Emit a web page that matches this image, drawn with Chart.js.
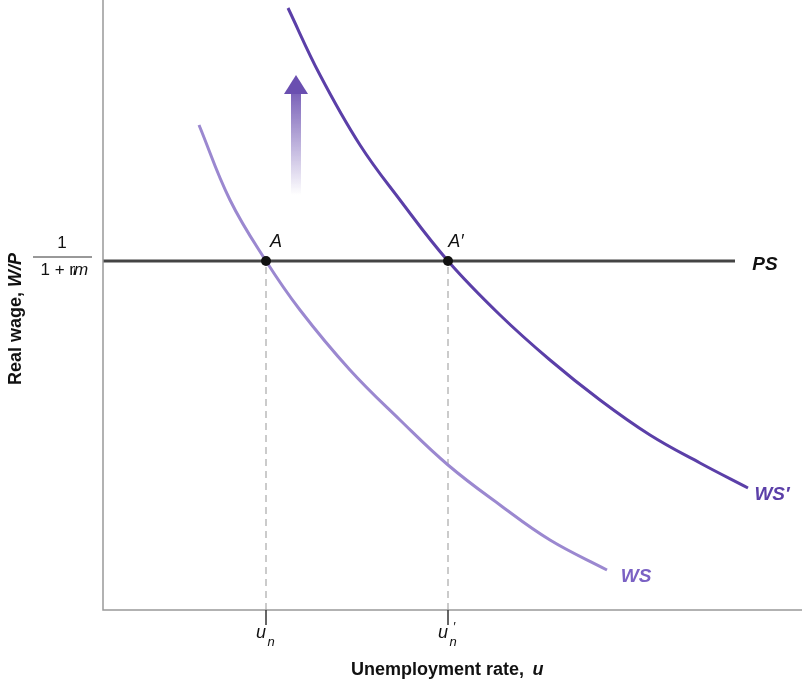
<!DOCTYPE html>
<html><head><meta charset="utf-8">
<script src="https://cdn.jsdelivr.net/npm/chart.js@4"></script>
<style>body{margin:0;background:#fff}#wrap{width:802px;height:687px}</style>
</head><body><div id="wrap"><canvas id="c"></canvas></div>
<script>
// unemployment (x) and real wage (y), in chart units
var wsX = [96, 127, 163, 197, 247, 297, 345, 397, 447, 504];
var wsY = [485, 410, 349, 300, 240, 190, 145, 105, 70, 40];
var ws2X = [185, 217, 257, 297, 345, 397, 447, 497, 547, 597, 645];
var ws2Y = [602, 535, 465, 410, 349, 295, 250, 210, 175, 147, 122];
var psLevel = 349;
var psEnd = 632;
var unX = 163, un2X = 345;

function pts(xs, ys) { return xs.map(function (x, i) { return {x: x, y: ys[i]}; }); }

var extras = {
  id: 'extras',
  afterDatasetsDraw: function (chart) {
    var c = chart.ctx, xs = chart.scales.x, ys = chart.scales.y;
    var a = chart.chartArea;
    c.save();
    // axes
    c.strokeStyle = '#999'; c.lineWidth = 1.5;
    c.beginPath(); c.moveTo(a.left, 0); c.lineTo(a.left, a.bottom); c.lineTo(802, a.bottom); c.stroke();
    // ticks
    c.strokeStyle = '#333'; c.lineWidth = 1.5;
    [unX, un2X].forEach(function (v) {
      var px = xs.getPixelForValue(v);
      c.beginPath(); c.moveTo(px, a.bottom); c.lineTo(px, a.bottom + 15); c.stroke();
    });
    // points
    c.fillStyle = '#111';
    [unX, un2X].forEach(function (v) {
      c.beginPath(); c.arc(xs.getPixelForValue(v), ys.getPixelForValue(psLevel), 5, 0, Math.PI * 2); c.fill();
    });
    // arrow
    var g = c.createLinearGradient(0, 195, 0, 80);
    g.addColorStop(0, 'rgba(106,79,176,0)'); g.addColorStop(1, 'rgba(106,79,176,1)');
    c.fillStyle = g;
    c.fillRect(291, 92, 10, 103);
    c.fillStyle = '#6a4fb0';
    c.beginPath(); c.moveTo(284, 94); c.lineTo(296, 75); c.lineTo(308, 94); c.closePath(); c.fill();
    // texts
    c.fillStyle = '#111'; c.textAlign = 'center'; c.textBaseline = 'middle';
    c.font = 'italic 18px Liberation Sans';
    c.fillText('A', 276, 242); c.fillText('A\u2032', 456, 242);
    c.font = 'bold italic 19px Liberation Sans';
    c.fillText('PS', 765, 265);
    c.fillStyle = '#7b62c4'; c.fillText('WS', 636, 577);
    c.fillStyle = '#5b3fa8'; c.fillText('WS\u2032', 772, 495);
    c.fillStyle = '#111';
    c.font = '17px Liberation Sans';
    c.fillText('1', 62, 243);
    c.fillText('1 + m', 62, 270);
    c.beginPath(); c.moveTo(33, 257); c.lineTo(92, 257); c.lineWidth = 1; c.stroke();
    c.font = 'italic 17px Liberation Sans';
    c.fillText('m', 80, 270);
    c.fillStyle = '#fff'; c.fillRect(75, 262, 14, 16); c.fillStyle = '#111';
    c.fillText('m', 81, 270);
    // u_n labels
    [[unX, ''], [un2X, '\u2032']].forEach(function (p) {
      var px = xs.getPixelForValue(p[0]);
      c.font = 'italic 18px Liberation Sans';
      c.fillText('u', px - 5, 633);
      c.font = 'italic 13px Liberation Sans';
      c.fillText('n', px + 5, 642);
      if (p[1]) c.fillText(p[1], px + 6, 627);
    });
    c.font = 'bold 18px Liberation Sans';
    c.fillText('Unemployment rate, ', 440, 670);
    c.font = 'bold italic 18px Liberation Sans';
    c.fillText('u', 538, 670);
    c.translate(16, 305); c.rotate(-Math.PI / 2);
    c.font = 'bold 18px Liberation Sans';
    c.textAlign = 'right'; c.fillText('Real wage, ', 18, 0);
    c.textAlign = 'left'; c.font = 'bold italic 18px Liberation Sans'; c.fillText('W/P', 18, 0);
    c.restore();
  }
};

new Chart(document.getElementById('c'), {
  type: 'line',
  data: {
    datasets: [
      {data: pts(wsX, wsY), borderColor: '#9b88d0', borderWidth: 3, tension: 0.4, pointRadius: 0},
      {data: pts(ws2X, ws2Y), borderColor: '#5b3fa8', borderWidth: 3, tension: 0.4, pointRadius: 0},
      {data: [{x: 0, y: psLevel}, {x: psEnd, y: psLevel}], borderColor: '#444', borderWidth: 3, pointRadius: 0},
      {data: [{x: unX, y: 0}, {x: unX, y: psLevel}], borderColor: '#bbb', borderWidth: 1.5, borderDash: [7, 5], pointRadius: 0},
      {data: [{x: un2X, y: 0}, {x: un2X, y: psLevel}], borderColor: '#bbb', borderWidth: 1.5, borderDash: [7, 5], pointRadius: 0}
    ]
  },
  options: {
    responsive: true, maintainAspectRatio: false, animation: false,
    layout: {padding: {left: 103, right: 2, top: 0, bottom: 77}},
    plugins: {legend: {display: false}, tooltip: {enabled: false}},
    scales: {
      x: {type: 'linear', min: 0, max: 697, display: false},
      y: {type: 'linear', min: 0, max: 610, display: false}
    }
  },
  plugins: [extras]
});
</script></body></html>
